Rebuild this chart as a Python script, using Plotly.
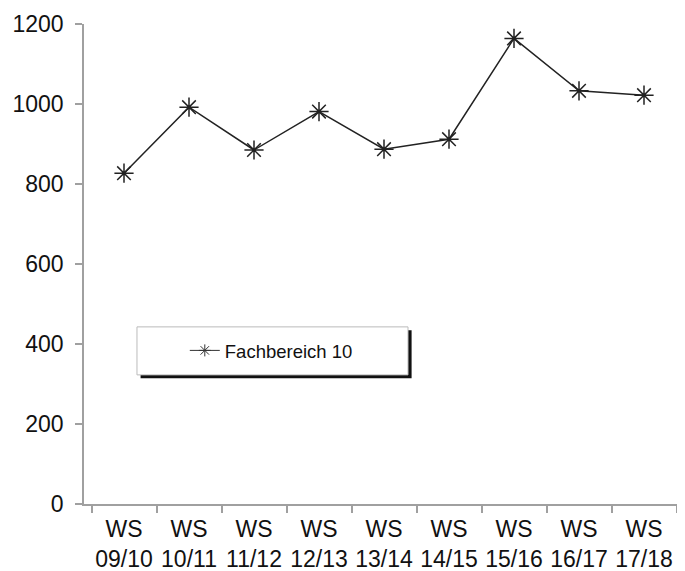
import plotly.graph_objects as go

semesters = ["09/10", "10/11", "11/12", "12/13", "13/14", "14/15", "15/16", "16/17", "17/18"]
studierende = [827, 992, 885, 981, 887, 912, 1164, 1033, 1022]
serie_name = "Fachbereich 10"
y_ticks = [0, 200, 400, 600, 800, 1000, 1200]

tick_text = ["WS<br>" + s for s in semesters]

fig = go.Figure()
fig.add_trace(go.Scatter(
    x=tick_text,
    y=studierende,
    name=serie_name,
    mode="lines+markers",
    showlegend=False,
    line=dict(color="#222222", width=1.5),
    marker=dict(symbol="asterisk-open", size=16, color="#222222",
                line=dict(color="#222222", width=1.5)),
))
# legend entry only (smaller symbol like the original legend)
fig.add_trace(go.Scatter(
    x=[None], y=[None],
    name=serie_name,
    mode="lines+markers",
    line=dict(color="#333333", width=1),
    marker=dict(symbol="asterisk-open", size=10, color="#333333",
                line=dict(color="#333333", width=1)),
))

# legend box with drop shadow (drawn as shapes; legend itself sits on top)
box = dict(x0=0.0883, x1=0.54, y0=0.269, y1=0.369)
fig.add_shape(type="rect", xref="paper", yref="paper",
              x0=box["x0"] + 0.006, x1=box["x1"] + 0.006,
              y0=box["y0"] - 0.007, y1=box["y1"] - 0.007,
              fillcolor="#111111", line=dict(width=0), layer="above")
fig.add_shape(type="rect", xref="paper", yref="paper", **box,
              fillcolor="white", line=dict(color="#bbbbbb", width=1), layer="above")

# page body has an 8px margin, so the figure is a bit smaller than the window
fig.update_layout(
    width=677,
    height=563,
    margin=dict(l=76, r=1, t=16, b=67),
    paper_bgcolor="white",
    plot_bgcolor="white",
    font=dict(family="Arial, Liberation Sans, sans-serif", size=23, color="#111111"),
    showlegend=True,
    legend=dict(
        x=0.168, y=0.319, xanchor="left", yanchor="middle",
        bgcolor="rgba(0,0,0,0)", borderwidth=0,
        font=dict(size=18.5, color="#111111"),
    ),
    xaxis=dict(
        type="category",
        automargin=False,
        tickangle=0,
        showgrid=False,
        showline=True, linecolor="#a0a0a0", linewidth=1.5,
        ticks="outside", tickson="boundaries", ticklen=7, tickcolor="#a0a0a0",
        tickwidth=1.5, zeroline=False,
        ticklabelstandoff=4,
    ),
    yaxis=dict(
        range=[0, 1200],
        automargin=False,
        tickvals=y_ticks,
        showgrid=False,
        showline=True, linecolor="#a0a0a0", linewidth=1.5,
        ticks="outside", ticklen=7, tickcolor="#a0a0a0", tickwidth=1.5,
        ticklabelstandoff=7,
        zeroline=False,
    ),
)

fig.write_html("out.html")
